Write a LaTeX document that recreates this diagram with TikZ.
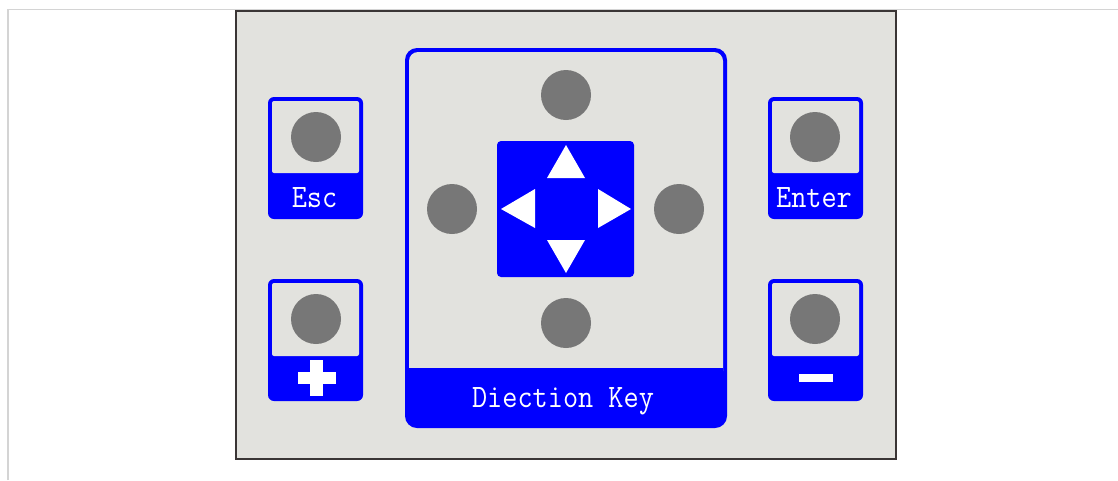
\documentclass[tikz,border=0pt]{standalone}
\usepackage{graphicx}
\definecolor{panelbg}{HTML}{E2E2DE}
\definecolor{panelline}{HTML}{3A3535}
\definecolor{keyblue}{HTML}{0000FF}
\definecolor{btngray}{HTML}{777777}
\definecolor{frameline}{HTML}{D4D4D4}
\newcommand\keytext[1]{\scalebox{0.9}[1.0]{#1}}
\begin{document}
\begin{tikzpicture}[x=1pt,y=-1pt,
  keybody/.style={fill=keyblue, rounded corners=6pt},
  keyface/.style={fill=panelbg, rounded corners=2pt},
  button/.style={circle, fill=btngray, minimum size=50pt, inner sep=0pt, draw=none},
  keylabel/.style={text=white, font=\ttfamily\fontsize{32.7}{34}\selectfont, inner sep=0pt, anchor=base},
  arrowtri/.style={fill=white},
  signbar/.style={fill=white}
  ]
\useasboundingbox (0,0) rectangle (1118,480);
\fill[white] (0,0) rectangle (1118,480);
\draw[frameline, line width=1.2pt] (8,480) -- (8,9.5) -- (1118,9.5);
\draw[panelline, fill=panelbg, line width=2pt] (236,11) rectangle (896,459);

% Esc key
\fill[keybody] (268,97) rectangle (363,219);
\fill[keyface] (272,101) rectangle (359,173);
\node[button] (escbtn) at (316,137) {};
\node[keylabel] (esc) at (314.5,207) {\keytext{Esc}};

% Plus key
\fill[keybody] (268,279) rectangle (363,401);
\fill[keyface] (272,283) rectangle (359,356);
\node[button] (plusbtn) at (316,319) {};
\fill[signbar] (310,360) rectangle (323,396);
\fill[signbar] (298,372) rectangle (336,384);

% Enter key
\fill[keybody] (768,97) rectangle (863,219);
\fill[keyface] (772,101) rectangle (859,173);
\node[button] (enterbtn) at (815,137) {};
\node[keylabel] (enter) at (814,207) {\keytext{Enter}};

% Minus key
\fill[keybody] (768,279) rectangle (863,401);
\fill[keyface] (772,283) rectangle (859,356);
\node[button] (minusbtn) at (815,319) {};
\fill[signbar] (799,374) rectangle (833,382);

% Direction key
\fill[keybody, rounded corners=12pt] (405,48) rectangle (727,428);
\fill[panelbg, rounded corners=9pt] (409,52) rectangle (723,380);
\fill[keyblue] (409,368) rectangle (723,390);
\node[button] (upbtn) at (566,95) {};
\node[button] (leftbtn) at (452,209) {};
\node[button] (rightbtn) at (679,209) {};
\node[button] (downbtn) at (566,323) {};
\fill[keyblue, rounded corners=4pt] (497,141) rectangle (634,277);
\fill[arrowtri] (566,145) -- (585,178) -- (547,178) -- cycle;
\fill[arrowtri] (547,240) -- (585,240) -- (566,273) -- cycle;
\fill[arrowtri] (501,209) -- (535,189) -- (535,228) -- cycle;
\fill[arrowtri] (598,189) -- (631,209) -- (598,228) -- cycle;
\node[keylabel] (dirlabel) at (563,407) {\keytext{Diection Key}};
\end{tikzpicture}
\end{document}
